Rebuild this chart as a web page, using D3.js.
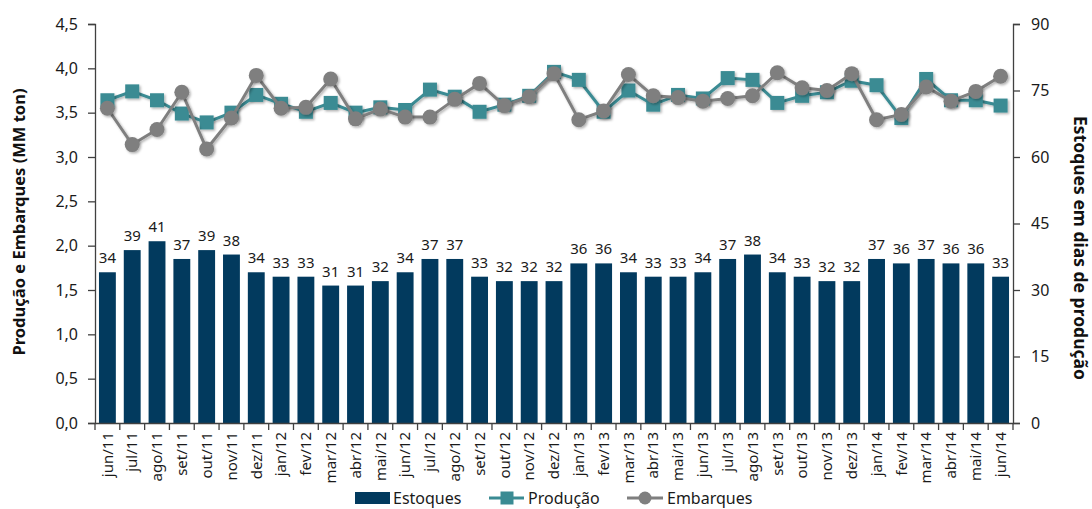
<!DOCTYPE html>
<html><head><meta charset="utf-8">
<script src="https://cdn.jsdelivr.net/npm/d3@7"></script>
<style>body{margin:0;background:#fff}svg{display:block}text{font-family:"Noto Sans",sans-serif}</style>
</head><body><svg id="c" width="1092" height="509"></svg>
<script>
const months = ["jun/11","jul/11","ago/11","set/11","out/11","nov/11","dez/11","jan/12","fev/12","mar/12","abr/12","mai/12","jun/12","jul/12","ago/12","set/12","out/12","nov/12","dez/12","jan/13","fev/13","mar/13","abr/13","mai/13","jun/13","jul/13","ago/13","set/13","out/13","nov/13","dez/13","jan/14","fev/14","mar/14","abr/14","mai/14","jun/14"];
const estoques = [34,39,41,37,39,38,34,33,33,31,31,32,34,37,37,33,32,32,32,36,36,34,33,33,34,37,38,34,33,32,32,37,36,37,36,36,33];
const producao = [3.64,3.74,3.64,3.49,3.39,3.50,3.70,3.60,3.51,3.61,3.50,3.56,3.53,3.76,3.68,3.51,3.59,3.69,3.96,3.87,3.51,3.75,3.59,3.70,3.66,3.89,3.87,3.61,3.69,3.73,3.86,3.81,3.44,3.88,3.64,3.64,3.58];
const embarques = [3.55,3.14,3.31,3.73,3.09,3.44,3.92,3.55,3.56,3.88,3.43,3.54,3.45,3.45,3.65,3.83,3.58,3.68,3.94,3.42,3.52,3.93,3.69,3.67,3.63,3.66,3.69,3.95,3.78,3.75,3.94,3.42,3.48,3.79,3.63,3.74,3.91];
const leftTicks = [0,0.5,1,1.5,2,2.5,3,3.5,4,4.5];
const rightTicks = [0,15,30,45,60,75,90];
const legendLabels = ["Estoques","Produção","Embarques"];

const svg = d3.select("#c");
const L = 95, R = 1013, T = 24, B = 423;
const x = d3.scaleBand().domain(months).range([L, R]).paddingInner(0.32).paddingOuter(0.16);
const xb = d3.scaleBand().domain(months).range([L, R]);
const yL = d3.scaleLinear().domain([0, 4.5]).range([B, T]);
const yR = d3.scaleLinear().domain([0, 90]).range([B, T]);
const navy = "#023a5e", teal = "#3a8b93", gray = "#7f7f7f", axisC = "#404040", txt = "#1a1a1a";

const defs = svg.append("defs");
const f = defs.append("filter").attr("id","sh").attr("x","-50%").attr("y","-50%").attr("width","200%").attr("height","200%");
f.append("feDropShadow").attr("dx",1.5).attr("dy",1.5).attr("stdDeviation",1.2).attr("flood-color","#000").attr("flood-opacity",0.3);

// bars
svg.append("g").selectAll("rect").data(estoques).join("rect")
  .attr("x", (d,i)=>x(months[i])).attr("width", x.bandwidth())
  .attr("y", d=>yR(d)).attr("height", d=>B - yR(d)).attr("fill", navy);
svg.append("g").selectAll("text").data(estoques).join("text")
  .attr("x", (d,i)=>x(months[i]) + x.bandwidth()/2).attr("y", d=>yR(d) - 9)
  .attr("text-anchor","middle").attr("font-size",15).attr("fill",txt).text(d=>d);

// axes
const gl = svg.append("g").attr("transform",`translate(${L},0)`)
  .call(d3.axisLeft(yL).tickValues(leftTicks).tickSize(7).tickFormat(d=>d3.format(".1f")(d).replace(".",",")));
const gr = svg.append("g").attr("transform",`translate(${R},0)`)
  .call(d3.axisRight(yR).tickValues(rightTicks).tickSize(7).tickFormat(d3.format("d")));
const gx = svg.append("g").attr("transform",`translate(0,${B})`)
  .call(d3.axisBottom(xb).tickSize(0).tickFormat(d=>d));
[gl,gr].forEach(g=>{
  g.selectAll("path,line").attr("stroke",axisC).attr("stroke-width",1.3);
  g.selectAll("text").attr("font-size",16).attr("fill",txt).style("font-family","'Noto Sans',sans-serif");
});
gl.selectAll("text").attr("x",-17);
gr.selectAll("text").attr("x",18);
gx.select("path").attr("stroke",axisC).attr("stroke-width",1.3);
gx.selectAll(".tick text").attr("transform","rotate(-90)").attr("text-anchor","end")
  .attr("x",-9).attr("y",0).attr("dy","0.35em").attr("font-size",15).attr("fill",txt)
  .style("font-family","'Noto Sans',sans-serif");
// ticks between categories
const bnds = months.map(m=>xb(m)).concat([R]);
svg.append("g").selectAll("line").data(bnds).join("line")
  .attr("x1",d=>d).attr("x2",d=>d).attr("y1",B).attr("y2",B+7).attr("stroke",axisC).attr("stroke-width",1.3);

// lines
const cx = i => xb(months[i]) + xb.bandwidth()/2;
const line = d3.line().x((d,i)=>cx(i)).y(d=>yL(d));
svg.append("path").datum(producao).attr("d",line).attr("fill","none").attr("stroke",teal).attr("stroke-width",3).attr("filter","url(#sh)");
svg.append("g").attr("filter","url(#sh)").selectAll("rect").data(producao).join("rect")
  .attr("x",(d,i)=>cx(i)-7).attr("y",d=>yL(d)-7).attr("width",14).attr("height",14).attr("fill",teal);
svg.append("path").datum(embarques).attr("d",line).attr("fill","none").attr("stroke",gray).attr("stroke-width",3).attr("filter","url(#sh)");
svg.append("g").attr("filter","url(#sh)").selectAll("circle").data(embarques).join("circle")
  .attr("cx",(d,i)=>cx(i)).attr("cy",d=>yL(d)).attr("r",7.5).attr("fill",gray);

// axis titles
svg.append("text").attr("transform","translate(25,222) rotate(-90)").attr("text-anchor","middle")
  .attr("font-size",16.5).attr("font-weight","bold").attr("fill","#111").text("Produção e Embarques (MM ton)");
svg.append("text").attr("transform","translate(1074,248) rotate(90)").attr("text-anchor","middle")
  .attr("font-size",17.5).attr("font-weight","bold").attr("fill","#111").text("Estoques em dias de produção");

// legend
const ly = 498;
const lg = svg.append("g");
lg.append("rect").attr("x",355).attr("y",ly-6).attr("width",35).attr("height",12).attr("fill",navy);
lg.append("text").attr("x",393).attr("y",ly).attr("dy","0.35em").attr("font-size",16).attr("fill",txt).text(legendLabels[0]);
lg.append("line").attr("x1",489).attr("x2",524).attr("y1",ly).attr("y2",ly).attr("stroke",teal).attr("stroke-width",3);
lg.append("rect").attr("x",500.5).attr("y",ly-6.5).attr("width",13).attr("height",13).attr("fill",teal);
lg.append("text").attr("x",528).attr("y",ly).attr("dy","0.35em").attr("font-size",16).attr("fill",txt).text(legendLabels[1]);
lg.append("line").attr("x1",627).attr("x2",663).attr("y1",ly).attr("y2",ly).attr("stroke",gray).attr("stroke-width",3);
lg.append("circle").attr("cx",645).attr("cy",ly).attr("r",6.5).attr("fill",gray);
lg.append("text").attr("x",667).attr("y",ly).attr("dy","0.35em").attr("font-size",16).attr("fill",txt).text(legendLabels[2]);
</script></body></html>
